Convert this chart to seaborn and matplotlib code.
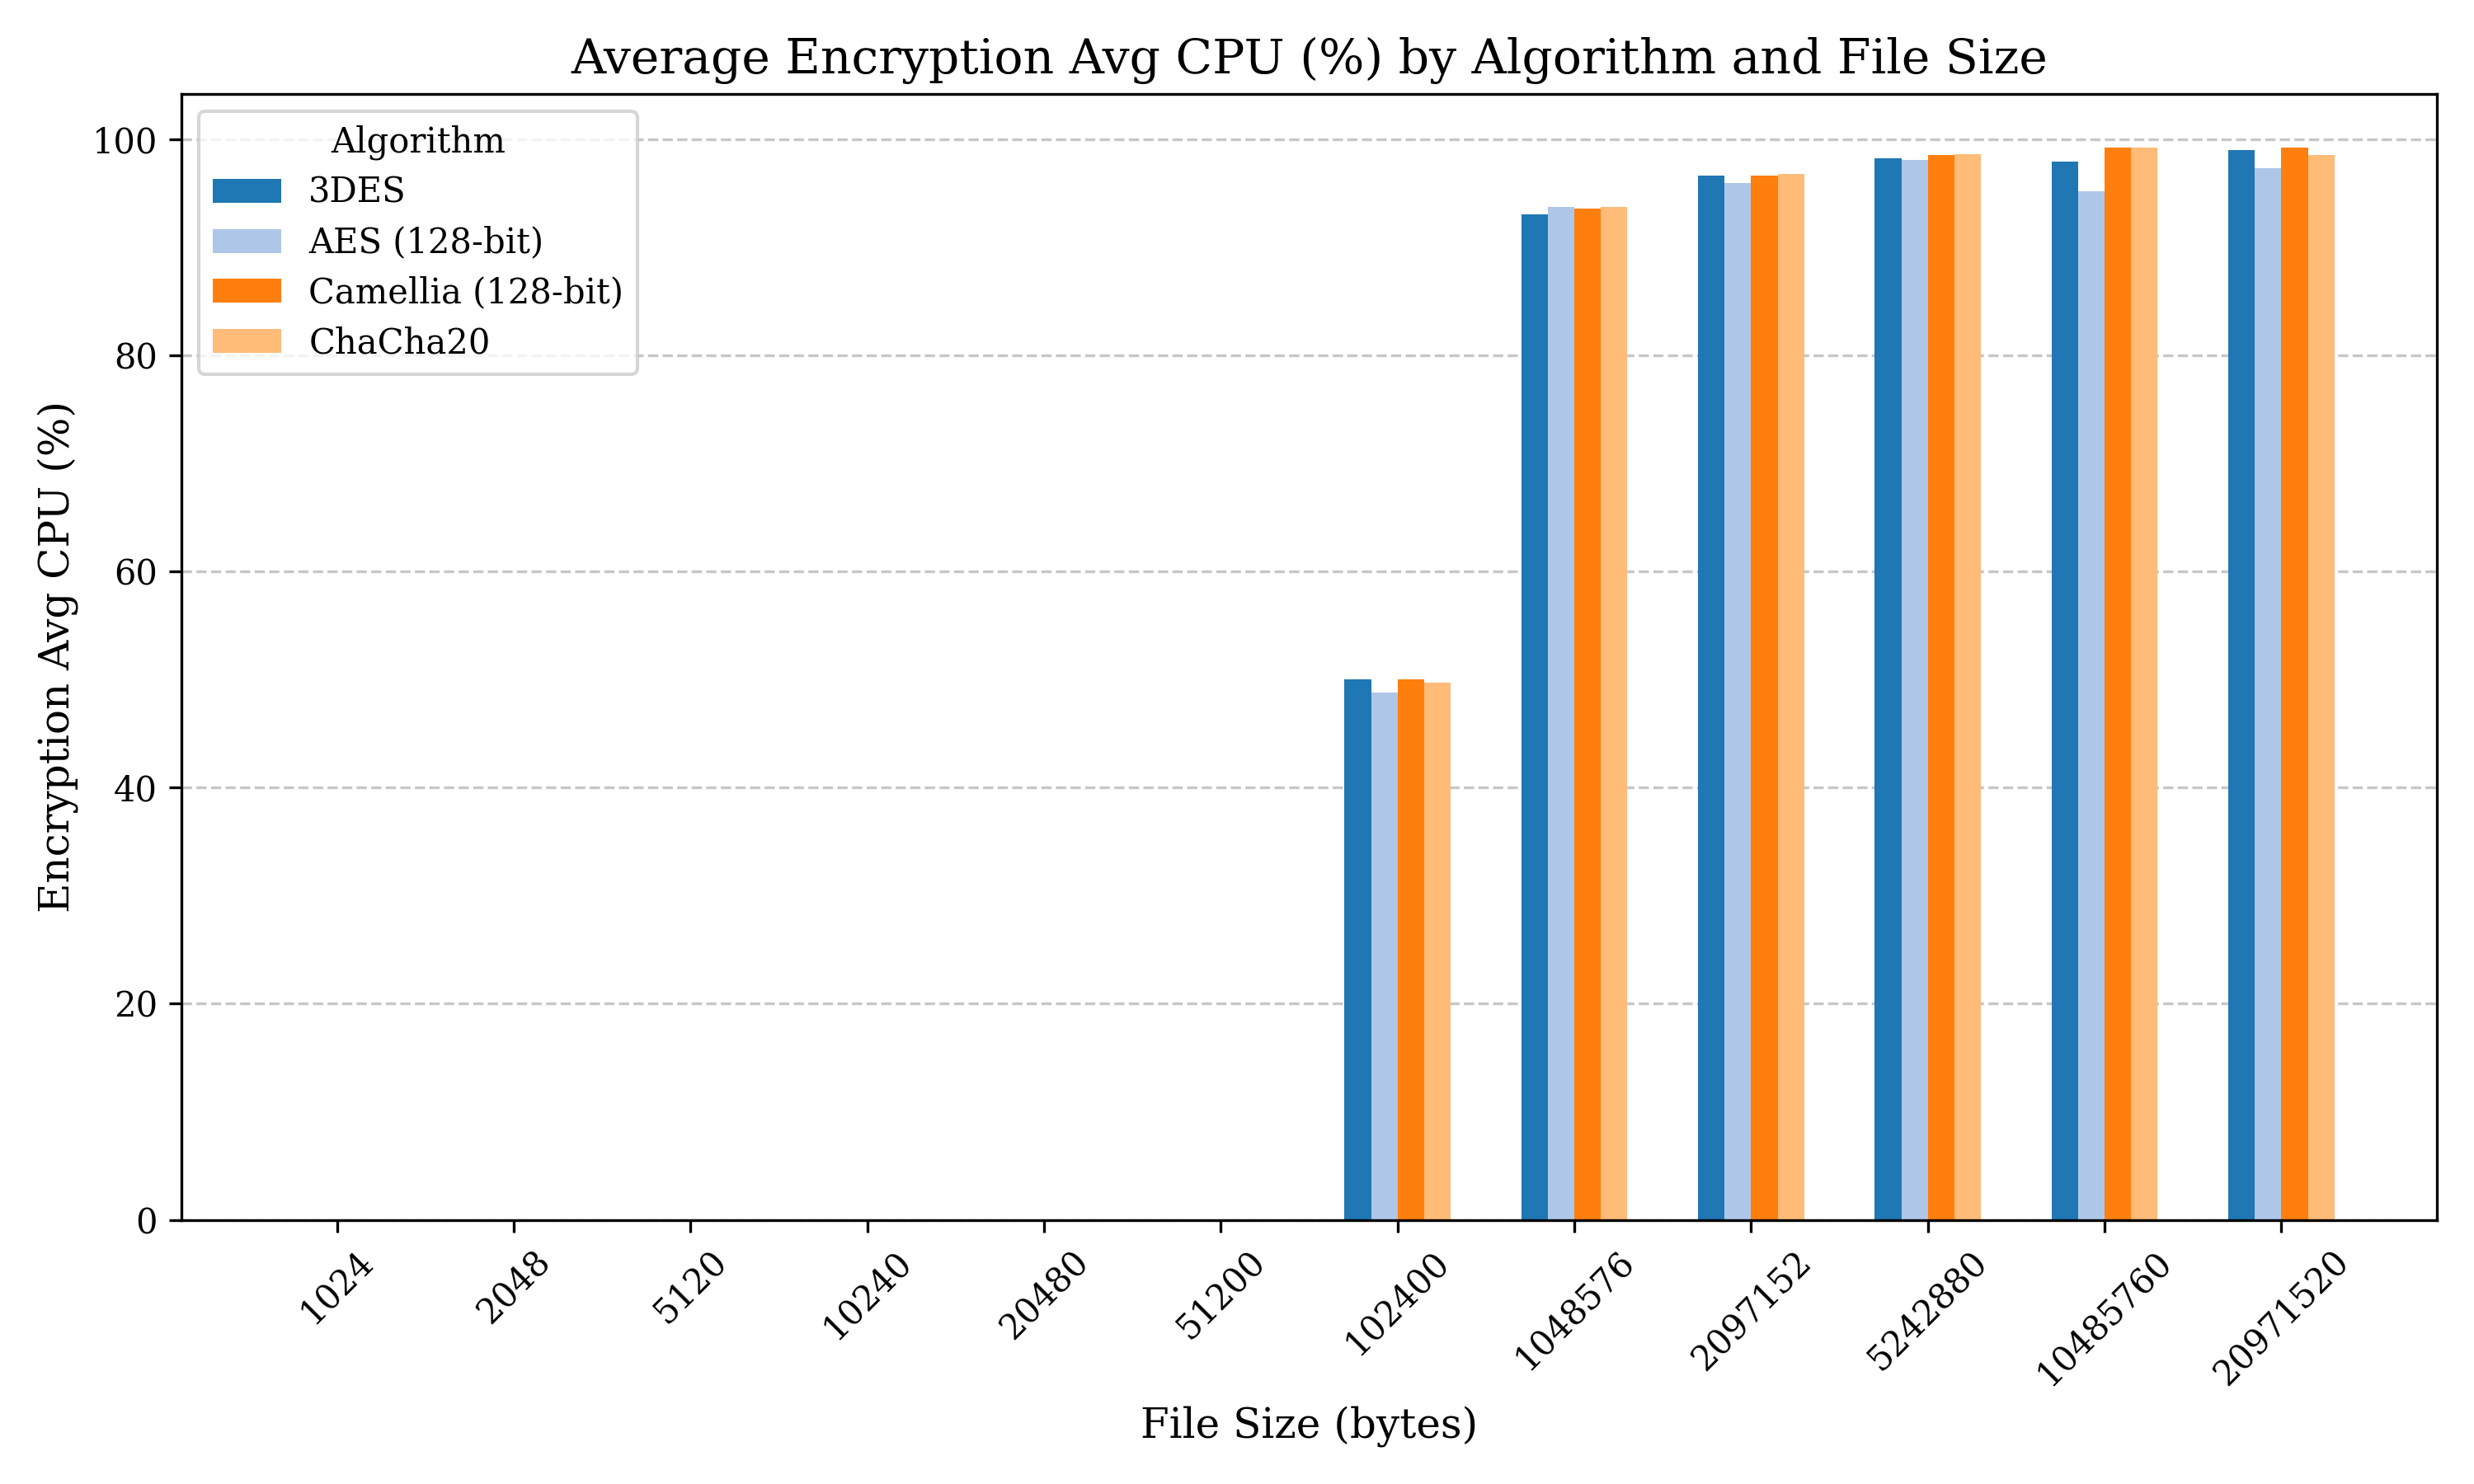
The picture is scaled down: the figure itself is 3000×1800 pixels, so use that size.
import matplotlib
matplotlib.use('Agg')
import matplotlib.pyplot as plt
import seaborn as sns
import pandas as pd

# data
file_sizes = ['1024', '2048', '5120', '10240', '20480', '51200', '102400',
              '1048576', '2097152', '5242880', '10485760', '20971520']
algorithms = ['3DES', 'AES (128-bit)', 'Camellia (128-bit)', 'ChaCha20']
cpu_3des = [0, 0, 0, 0, 0, 0, 50.0, 93.0, 96.6, 98.2, 97.9, 99.0]
cpu_aes = [0, 0, 0, 0, 0, 0, 48.8, 93.7, 95.9, 98.1, 95.2, 97.3]
cpu_camellia = [0, 0, 0, 0, 0, 0, 50.0, 93.6, 96.6, 98.5, 99.2, 99.2]
cpu_chacha = [0, 0, 0, 0, 0, 0, 49.7, 93.7, 96.8, 98.6, 99.2, 98.5]

rows = []
for alg, vals in zip(algorithms, [cpu_3des, cpu_aes, cpu_camellia, cpu_chacha]):
    for fs, v in zip(file_sizes, vals):
        rows.append({'File Size': fs, 'Algorithm': alg, 'CPU': v})
df = pd.DataFrame(rows)

plt.rcParams['font.family'] = 'DejaVu Serif'
colors = sns.color_palette('tab20', 4)

fig, ax = plt.subplots(figsize=(10, 6), dpi=300)
sns.barplot(data=df, x='File Size', y='CPU', hue='Algorithm', order=file_sizes,
            hue_order=algorithms, palette=colors, width=0.6, gap=0,
            saturation=1, linewidth=0, legend=False, ax=ax)
ax.set_xlim(-0.88, len(file_sizes) - 1 + 0.88)

ax.set_title('Average Encryption Avg CPU (%) by Algorithm and File Size', fontsize=14)
ax.set_xlabel('File Size (bytes)', fontsize=12)
ax.set_ylabel('Encryption Avg CPU (%)', fontsize=12)
plt.xticks(rotation=45)
ax.grid(axis='y', linestyle='--', alpha=0.7)
ax.set_axisbelow(True)
ax.legend(list(ax.containers), algorithms, title='Algorithm', loc='upper left',
          labelspacing=0.45)

plt.tight_layout()
plt.savefig('out.png', dpi=300)
